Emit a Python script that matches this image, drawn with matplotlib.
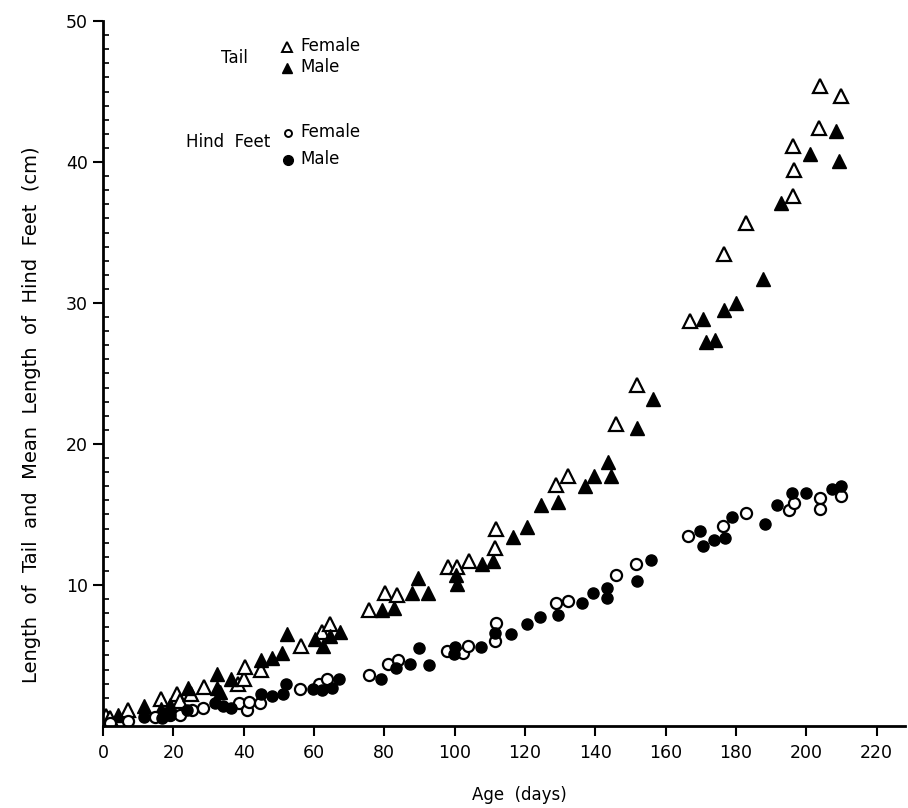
import matplotlib
matplotlib.use("Agg")
import matplotlib.pyplot as plt
from matplotlib.ticker import MultipleLocator, FixedLocator

# Tail, female (open triangles)
tail_f_age = [1, 2, 7, 16.5, 21, 22, 25, 28.7, 38.5, 40, 40.5, 44.8, 56.4, 62.3, 64.5,
              75.7, 80.2, 83.5, 98, 100.7, 104, 111.4, 111.7, 128.8, 132.2, 145.8, 151.8,
              166.9, 176.5, 182.8, 196.1, 196.4, 196.1, 203.5, 203.8, 209.8]
tail_f_len = [0.7, 0.6, 1.1, 1.9, 2.3, 1.8, 2.3, 2.8, 3.0, 3.3, 4.2, 4.0, 5.7, 6.7, 7.2,
              8.2, 9.4, 9.3, 11.3, 11.3, 11.7, 12.6, 14.0, 17.1, 17.7, 21.4, 24.2,
              28.7, 33.5, 35.7, 37.6, 39.4, 41.1, 42.4, 45.4, 44.7]

# Tail, male (filled triangles)
tail_m_age = [4.3, 11.7, 16.5, 19, 24.2, 32.3, 32.3, 33.2, 36.3, 44.9, 48, 50.8, 52.4,
              60.3, 62.5, 64.5, 67.4, 79.3, 82.7, 87.8, 89.6, 92.4, 100.3, 100.6, 107.7,
              110.9, 116.5, 120.5, 124.5, 129.3, 137, 139.6, 144.4, 143.5, 151.8, 156.3,
              171.4, 174, 170.5, 176.5, 179.9, 187.6, 192.7, 201, 208.4, 209.2]
tail_m_len = [0.8, 1.4, 1.2, 1.5, 2.7, 3.7, 2.7, 2.4, 3.3, 4.7, 4.8, 5.2, 6.5,
              6.2, 5.7, 6.4, 6.7, 8.2, 8.4, 9.4, 10.5, 9.4, 10.7, 10.1, 11.5,
              11.7, 13.4, 14.1, 15.7, 15.9, 17.0, 17.7, 17.7, 18.7, 21.1, 23.2,
              27.2, 27.4, 28.9, 29.5, 30.0, 31.7, 37.1, 40.6, 42.2, 40.1]

# Hind feet, female (open circles)
feet_f_age = [2, 7.2, 14.8, 19, 22, 25.4, 28.4, 38.8, 41.1, 41.6, 44.6, 56, 61.5, 63.8,
              75.7, 81.1, 84, 97.7, 102.4, 103.7, 111.7, 111.4, 128.8, 132.2, 145.9, 151.5,
              166.3, 176.2, 182.8, 195, 196.4, 203.8, 204, 209.8]
feet_f_len = [0.2, 0.35, 0.65, 0.8, 0.8, 1.1, 1.3, 1.6, 1.1, 1.7, 1.6, 2.6, 3.0, 3.3,
              3.6, 4.4, 4.7, 5.3, 5.2, 5.7, 7.3, 6.0, 8.7, 8.9, 10.7, 11.5,
              13.5, 14.2, 15.1, 15.3, 15.8, 16.2, 15.4, 16.3]

# Hind feet, male (filled circles)
feet_m_age = [11.7, 16.7, 19, 24, 31.8, 34, 36.3, 44.9, 48, 51.1, 52, 59.6, 62.2, 65, 67.2,
              79, 83.3, 87.3, 89.9, 92.8, 99.8, 100, 107.4, 111.4, 116, 120.5, 124.2, 129.3,
              136.2, 139.3, 143.3, 143.3, 151.8, 155.8, 169.7, 170.6, 173.7, 176.8, 179,
              188.2, 191.6, 195.9, 199.8, 207.2, 209.8]
feet_m_len = [0.65, 0.55, 0.8, 1.1, 1.6, 1.4, 1.3, 2.3, 2.1, 2.3, 3.0, 2.6, 2.55, 2.7, 3.3,
              3.3, 4.1, 4.4, 5.5, 4.3, 5.1, 5.6, 5.6, 6.6, 6.5, 7.2, 7.7, 7.9,
              8.7, 9.4, 9.8, 9.1, 10.3, 11.8, 13.8, 12.8, 13.2, 13.3, 14.8,
              14.3, 15.7, 16.5, 16.5, 16.8, 17.0]

x_ticks = [0, 20, 40, 60, 80, 100, 120, 140, 160, 180, 200, 220]
y_ticks = [10, 20, 30, 40, 50]

plt.rcParams['font.family'] = ['DejaVu Sans']
fig = plt.figure(figsize=(9.08, 8.08), dpi=100)
ax = fig.add_axes([0.1134, 0.1015, 0.883, 0.8725])

tri_ms = 10
cir_ms = 8
ax.plot(tail_f_age, tail_f_len, linestyle='none', marker='^', ms=tri_ms,
        mfc='white', mec='black', mew=1.6)
ax.plot(tail_m_age, tail_m_len, linestyle='none', marker='^', ms=tri_ms,
        mfc='black', mec='black', mew=1.0)
ax.plot(feet_f_age, feet_f_len, linestyle='none', marker='o', ms=cir_ms,
        mfc='white', mec='black', mew=1.6)
ax.plot(feet_m_age, feet_m_len, linestyle='none', marker='o', ms=cir_ms,
        mfc='black', mec='black', mew=1.0)

ax.set_xlim(0, 228)
ax.set_ylim(0, 50)
ax.spines['top'].set_visible(False)
ax.spines['right'].set_visible(False)
ax.spines['left'].set_linewidth(2)
ax.spines['bottom'].set_linewidth(2)

ax.xaxis.set_major_locator(FixedLocator(x_ticks))
ax.set_xticklabels([str(t) for t in x_ticks])
ax.yaxis.set_major_locator(FixedLocator(y_ticks))
ax.set_yticklabels([str(t) for t in y_ticks])
ax.yaxis.set_minor_locator(MultipleLocator(1))
ax.tick_params(axis='x', which='major', direction='out', length=7, width=1.5,
               labelsize=12.5, pad=6)
ax.tick_params(axis='y', which='major', direction='out', length=7, width=1.5,
               labelsize=12.5, pad=4)
ax.tick_params(axis='y', which='minor', direction='in', length=4, width=1.2)


def fx(px):
    return (px - 103) / 802.0


def fy(py):
    return (726 - py) / 705.0


ax.set_xlabel('Age  (days)', fontsize=12)
ax.xaxis.set_label_coords(fx(520), fy(795))
ax.set_ylabel('Length  of  Tail  and  Mean  Length  of  Hind  Feet  (cm)', fontsize=14)
ax.yaxis.set_label_coords(fx(32), fy(415))
ax.yaxis.label.set_va('center')
ax.xaxis.label.set_va('center')

tr = ax.transAxes
ax.text(fx(248), fy(58), 'Tail', transform=tr, fontsize=12, ha='right', va='center')
ax.plot([fx(287)], [fy(47)], transform=tr, marker='^', ms=7, mfc='white', mec='black',
        mew=1.4, linestyle='none', clip_on=False)
ax.text(fx(300), fy(46), 'Female', transform=tr, fontsize=12, ha='left', va='center')
ax.plot([fx(287)], [fy(68)], transform=tr, marker='^', ms=7, mfc='black', mec='black',
        linestyle='none', clip_on=False)
ax.text(fx(300), fy(67), 'Male', transform=tr, fontsize=12, ha='left', va='center')

ax.text(fx(270), fy(142), 'Hind  Feet', transform=tr, fontsize=12, ha='right', va='center')
ax.plot([fx(288)], [fy(133)], transform=tr, marker='o', ms=5, mfc='white', mec='black',
        mew=1.4, linestyle='none', clip_on=False)
ax.text(fx(300), fy(132), 'Female', transform=tr, fontsize=12, ha='left', va='center')
ax.plot([fx(288)], [fy(160)], transform=tr, marker='o', ms=7, mfc='black', mec='black',
        linestyle='none', clip_on=False)
ax.text(fx(300), fy(159), 'Male', transform=tr, fontsize=12, ha='left', va='center')

fig.savefig('out.png', dpi=100)
